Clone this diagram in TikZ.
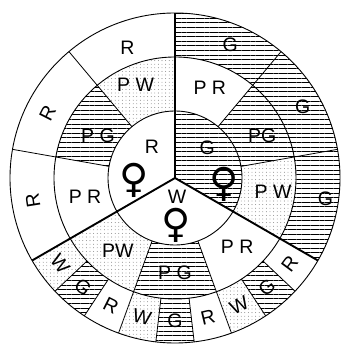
\documentclass[tikz,border=0pt]{standalone}
\usepackage{fontspec}
\setmainfont{Liberation Sans}
\newfontfamily\venusfont{DejaVu Sans}
\usetikzlibrary{patterns.meta}

\begin{document}
\begin{tikzpicture}[
  x=1pt, y=1pt,
  hatch/.style={pattern={Lines[angle=0,distance=4.6pt,line width=1pt]}},
  stipple/.style={pattern={Dots[distance=3.6pt,radius=0.42pt]},pattern color=black!65},
  ring/.style={line width=0.9pt},
  spoke/.style={line width=0.8pt},
  mainspoke/.style={line width=1.9pt},
  lbl/.style={font=\fontsize{19.5}{19.5}\selectfont,inner sep=0pt},
  venus/.style={font=\venusfont\fontsize{40}{40}\selectfont,inner sep=0pt}
]
  \useasboundingbox (0,0) rectangle (342,345);
  \begin{scope}[shift={(175,167)}]
    % hatched cells (G, PG)
    \fill[hatch] (0,0) -- (-30:67) arc[start angle=-30,end angle=90,radius=67] -- cycle;
    \foreach \a/\b/\ri/\ro in {10/50/67/121, 130/170/67/121, 250/290/67/121,
        -30/90/121/165, 223.33/236.67/121/165, 263.33/276.67/121/165, 303.33/316.67/121/165}
      \fill[hatch] (\a:\ri) arc[start angle=\a,end angle=\b,radius=\ri]
        -- (\b:\ro) arc[start angle=\b,end angle=\a,radius=\ro] -- cycle;
    % stippled cells (W, PW)
    \foreach \a/\b/\ri/\ro in {90/130/67/121, -30/10/67/121, 210/250/67/121,
        210/223.33/121/165, 250/263.33/121/165, 290/303.33/121/165}
      \fill[stipple] (\a:\ri) arc[start angle=\a,end angle=\b,radius=\ri]
        -- (\b:\ro) arc[start angle=\b,end angle=\a,radius=\ro] -- cycle;

    \draw[ring] (0,0) circle[radius=67];
    \draw[ring] (0,0) circle[radius=121];
    \draw[ring] (0,0) circle[radius=165];

    \foreach \a in {10,50,130,170,250,290}
      \draw[spoke] (\a:67) -- (\a:165);
    \foreach \a in {223.33,236.67,263.33,276.67,303.33,316.67}
      \draw[spoke] (\a:121) -- (\a:165);
    \foreach \a in {90,210,330}
      \draw[mainspoke] (0,0) -- (\a:165);

    % inner circle
    \node[lbl] (inR) at (126.6:38.6) {R};
    \node[lbl] (inG) at (43:44) {G};
    \node[lbl] (inW) at (276:19) {W};
    \node[venus] (venusR) at (184:41) {♀};
    \node[venus] (venusG) at (-7:50) {♀};
    \node[venus] (venusW) at (271.5:47) {♀};

    % middle ring
    \node[lbl] (pwTop) at (113:101) {P W};
    \node[lbl] (pgLeft) at (151:88) {P G};
    \node[lbl] (prLeft) at (192:92) {P R};
    \node[lbl] (prTop) at (69:97) {P R};
    \node[lbl] (pgRight) at (26:97) {PG};
    \node[lbl] (pwRight) at (-8:99) {P W};
    \node[lbl] (prLow) at (312:93) {P R};
    \node[lbl] (pgLow) at (270:95) {P G};
    \node[lbl] (pwLow) at (232:93) {PW};

    % outer ring
    \node[lbl] (rOne) at (110:139) {R};
    \node[lbl,rotate=63] (rTwo) at (153:143) {R};
    \node[lbl,rotate=99] (rThree) at (189:144) {R};
    \node[lbl] (gOne) at (67.5:144) {G};
    \node[lbl] (gTwo) at (29:146) {G};
    \node[lbl] (gThree) at (-8:152) {G};
    \foreach \t [count=\i from 0] in {W,G,R,W,G,R,W,G,R}
      \node[lbl,rotate=306.67+13.33*\i] (outer\i) at (216.67+13.33*\i:143) {\t};
  \end{scope}
\end{tikzpicture}
\end{document}
